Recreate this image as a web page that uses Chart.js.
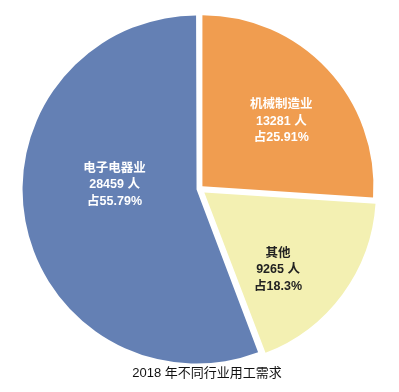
<!DOCTYPE html>
<html>
<head>
<meta charset="utf-8">
<script src="https://cdn.jsdelivr.net/npm/chart.js@4.4.0/dist/chart.umd.min.js"></script>
<style>
  body { margin: 0; background: #fff; }
  #wrap { position: relative; width: 399px; height: 392px; }
  #caption {
    position: absolute; left: 0; width: 414px; top: 362px; line-height: 16px;
    text-align: center; color: #111;
    font: 13px "Liberation Sans", "Noto Sans CJK SC", sans-serif;
  }
</style>
</head>
<body>
<div id="wrap">
  <canvas id="industryChart"></canvas>
  <div id="caption">2018 年不同行业用工需求</div>
</div>
<script>
// slices in clockwise order from 12 o'clock
const industries = ['机械制造业', '其他', '电子电器业'];
const workers = [13281, 9265, 28459];
const shares = ['25.91%', '18.3%', '55.79%'];

const colors = ['#F09D50', '#F3F0B2', '#6480B4'];
const textColors = ['#ffffff', '#222222', '#ffffff'];
const explode = [16, 24, 12];
// where each label sits: fraction of radius along the slice middle, plus a small nudge
const labelAt = [[0.6, 4, 5], [0.62, -12, 14], [0.47, 0, -20]];

const sliceLabels = {
    id: 'sliceLabels',
    afterDatasetsDraw(chart) {
        const ctx = chart.ctx;
        const arcs = chart.getDatasetMeta(0).data;
        ctx.save();
        ctx.textAlign = 'center';
        ctx.textBaseline = 'middle';
        ctx.font = 'bold 12.5px "Liberation Sans", "Noto Sans CJK SC", sans-serif';
        arcs.forEach(function (arc, i) {
            const p = arc.getProps(['x', 'y', 'startAngle', 'endAngle', 'outerRadius', 'circumference'], true);
            const mid = (p.startAngle + p.endAngle) / 2;
            const off = explode[i] / 4;
            const shift = off * (2 - Math.sin(Math.min(Math.PI, p.circumference)));
            const r = p.outerRadius * labelAt[i][0];
            const cx = p.x + Math.cos(mid) * (shift + r) + labelAt[i][1];
            const cy = p.y + Math.sin(mid) * (shift + r) + labelAt[i][2];
            const lines = [industries[i], workers[i] + ' 人', '占' + shares[i]];
            ctx.fillStyle = textColors[i];
            lines.forEach(function (t, k) {
                ctx.fillText(t, cx, cy + (k - 1) * 16.5);
            });
        });
        ctx.restore();
    }
};

new Chart(document.getElementById('industryChart'), {
    type: 'pie',
    data: {
        labels: industries,
        datasets: [{
            data: workers,
            backgroundColor: colors,
            borderWidth: 0,
            offset: explode,
            clip: false
        }]
    },
    options: {
        responsive: true,
        maintainAspectRatio: false,
        animation: false,
        radius: 171,
        layout: { padding: { bottom: 14 } },
        plugins: {
            legend: { display: false },
            tooltip: { enabled: false }
        }
    },
    plugins: [sliceLabels]
});
</script>
</body>
</html>
